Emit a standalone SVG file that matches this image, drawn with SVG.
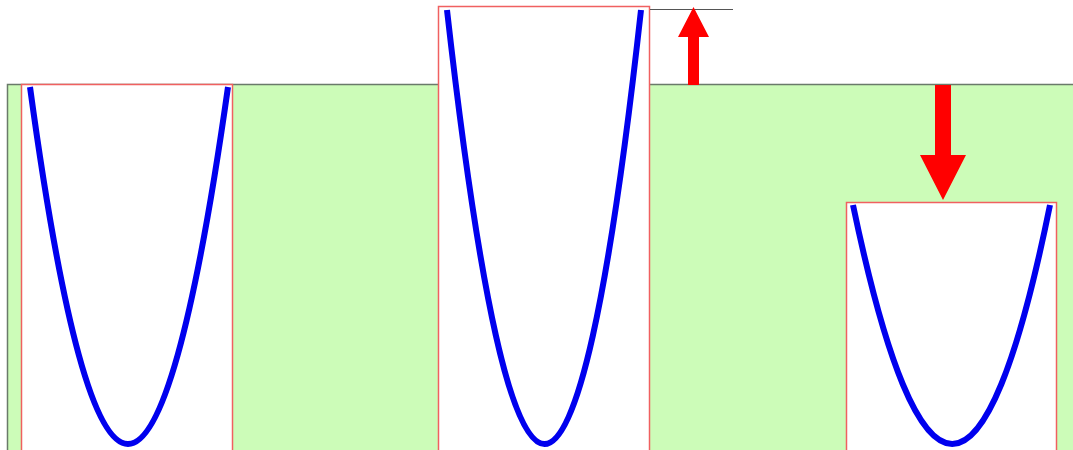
<svg xmlns="http://www.w3.org/2000/svg" width="1073" height="450" viewBox="0 0 1073 450">
<style>
.box{fill:#ffffff;stroke:#f06060;stroke-width:1.5}
.curve{fill:none;stroke:#0000ee;stroke-width:6;stroke-linecap:butt}
.arrow{fill:#ff0000}
</style>
<rect x="0" y="0" width="1073" height="450" fill="#ffffff"/>
<g id="ground">
<rect x="7.5" y="84.5" width="1070" height="370" fill="#ccfcb8" stroke="#6a7a6a" stroke-width="1.5"/>
</g>
<g id="well1">
<rect class="box" x="21.5" y="84.5" width="211" height="370"/>
<path class="curve" d="M30,87 Q127,801 228,87"/>
</g>
<g id="well2">
<rect class="box" x="438.5" y="6.5" width="211" height="450"/>
<path class="curve" d="M447,10 Q545,878 641,10"/>
</g>
<g id="well3">
<rect class="box" x="846.5" y="202.5" width="210" height="260"/>
<path class="curve" d="M853,205 Q953,683 1050,205"/>
</g>
<g id="connectors">
<line x1="650" y1="9.5" x2="733" y2="9.5" stroke="#555555" stroke-width="1.2"/>
<polygon class="arrow" points="688,85 699,85 699,37 709,37 693.5,7 678,37 688,37"/>
<polygon class="arrow" points="935,85 951,85 951,155 966,155 943,200 920,155 935,155"/>
</g>
</svg>
